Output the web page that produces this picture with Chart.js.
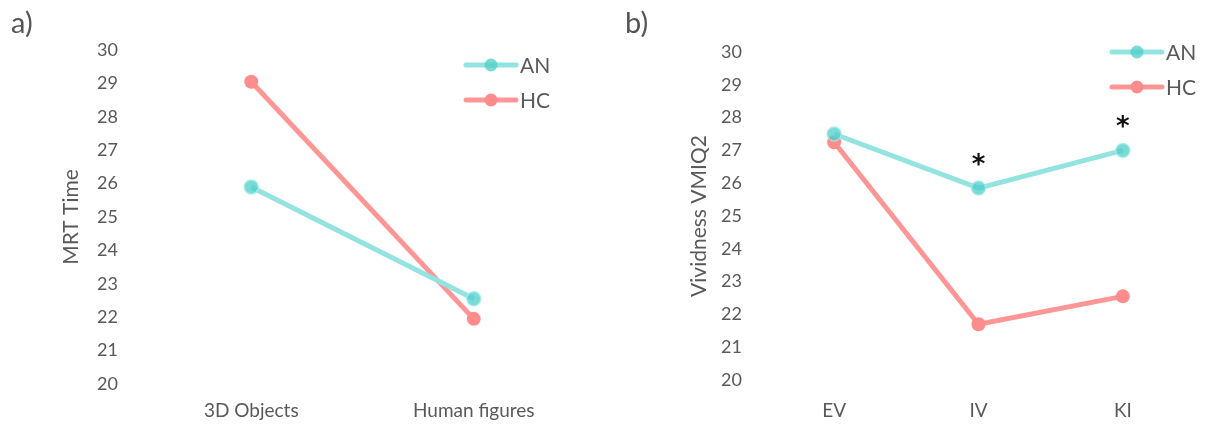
<!DOCTYPE html>
<html>
<head>
<meta charset="utf-8">
<script src="https://cdn.jsdelivr.net/npm/chart.js@4.4.0/dist/chart.umd.min.js"></script>
<style>
  html, body { margin: 0; padding: 0; background: #fff; }
  body { width: 1208px; height: 425px; position: relative; overflow: hidden; font-family: Lato, sans-serif; }
  .panel { position: absolute; top: 0; width: 604px; height: 425px; }
  #panelA { left: 0; }
  #panelB { left: 604px; }
  .tag { position: absolute; top: 5px; font-size: 29px; line-height: 34px; color: #555; }
</style>
</head>
<body>
<div class="panel" id="panelA"><canvas id="chartA"></canvas></div>
<div class="panel" id="panelB"><canvas id="chartB"></canvas></div>
<div class="tag" style="left:11px">a)</div>
<div class="tag" style="left:625px">b)</div>
<script>
/* --------------- Data --------------------- */
const seriesNames = ["AN", "HC"];

// a) mental rotation test
const mrtCategories = ["3D Objects", "Human figures"];
const mrtAN = [25.9, 22.55];
const mrtHC = [29.05, 21.95];

// b) vividness of movement imagery
const vmiqCategories = ["EV", "IV", "KI"];
const vmiqAN = [27.5, 25.85, 27.0];
const vmiqHC = [27.25, 21.7, 22.55];
const vmiqSig = ["", "*", "*"];

const yMin = 20;
const yMax = 30;

/* --------------- Colors --------------------- */
const anLine = "#93e4e0";
const anPoint = "rgba(78,206,200,0.75)";
const hcLine = "#ff9696";
const hcPoint = "#ff8c8c";
const textColor = "#595959";

Chart.defaults.font.family = "Lato, sans-serif";
Chart.defaults.color = textColor;

/* --------------- Legend (line + marker) --------------------- */
const lineLegend = {
  id: "lineLegend",
  afterDraw(chart, args, opts) {
    const ctx = chart.ctx;
    ctx.save();
    chart.data.datasets.forEach((ds, i) => {
      const y = opts.y + i * opts.gap;
      ctx.strokeStyle = ds.borderColor;
      ctx.lineWidth = 5;
      ctx.lineCap = "round";
      ctx.beginPath();
      ctx.moveTo(opts.x, y);
      ctx.lineTo(opts.x + 50, y);
      ctx.stroke();
      ctx.fillStyle = ds.pointBackgroundColor;
      ctx.beginPath();
      ctx.arc(opts.x + 25, y, 6.5, 0, Math.PI * 2);
      ctx.fill();
      ctx.fillStyle = textColor;
      ctx.font = "21px Lato, sans-serif";
      ctx.textBaseline = "middle";
      ctx.textAlign = "left";
      ctx.fillText(ds.label, opts.x + 54, y + 1);
    });
    ctx.restore();
  },
};

/* --------------- Significance stars --------------------- */
const sigStars = {
  id: "sigStars",
  afterDatasetsDraw(chart, args, opts) {
    if (!opts.marks) return;
    const ctx = chart.ctx;
    const xs = chart.scales.x, ys = chart.scales.y;
    ctx.save();
    ctx.fillStyle = "#111";
    ctx.font = "bold 26px 'DejaVu Sans', sans-serif";
    ctx.textAlign = "center";
    ctx.textBaseline = "middle";
    opts.marks.forEach((m, i) => {
      if (!m) return;
      const top = Math.max(...chart.data.datasets.map((d) => d.data[i]));
      ctx.fillText(m, xs.getPixelForValue(i), ys.getPixelForValue(top) - 22);
    });
    ctx.restore();
  },
};

/* --------------- Chart builder --------------------- */
function makeChart(canvas, cats, an, hc, yTitle, lay) {
  return new Chart(canvas, {
    type: "line",
    plugins: [lineLegend, sigStars],
    data: {
      labels: cats,
      datasets: [
        {
          label: seriesNames[0],
          data: an,
          borderColor: anLine,
          pointBackgroundColor: anPoint,
          pointBorderColor: "rgba(160,235,232,0.8)",
          pointBorderWidth: 1.5,
        },
        {
          label: seriesNames[1],
          data: hc,
          borderColor: hcLine,
          pointBackgroundColor: hcPoint,
          pointBorderColor: hcPoint,
          pointBorderWidth: 0,
        },
      ],
    },
    options: {
      responsive: true,
      maintainAspectRatio: false,
      animation: false,
      elements: {
        line: { borderWidth: 5, tension: 0 },
        point: { radius: 7 },
      },
      layout: { padding: { left: lay.left, top: lay.top, right: lay.right, bottom: 0 } },
      plugins: {
        legend: { display: false },
        tooltip: { enabled: false },
        lineLegend: lay.legend,
        sigStars: { marks: lay.marks },
      },
      scales: {
        x: {
          offset: true,
          grid: { display: false, drawTicks: false },
          border: { display: false },
          ticks: { padding: lay.xPad, font: { size: 19 }, color: textColor },
          afterFit: (s) => { s.height = lay.xHeight; },
        },
        y: {
          min: yMin,
          max: yMax,
          grid: { display: false, drawTicks: false },
          border: { display: false },
          ticks: { stepSize: 1, padding: lay.yPad, font: { size: 18 }, color: textColor },
          title: { display: true, text: yTitle, font: { size: 21 }, color: textColor, padding: 0 },
          afterFit: (s) => { s.width = lay.yWidth; },
        },
      },
    },
  });
}

makeChart(document.getElementById("chartA"), mrtCategories, mrtAN, mrtHC, "MRT Time", {
  left: 59, top: 50, right: 19, yWidth: 81, yPad: 22, xHeight: 41, xPad: 15,
  legend: { x: 466, y: 65, gap: 35 },
  marks: null,
});

makeChart(document.getElementById("chartB"), vmiqCategories, vmiqAN, vmiqHC, "Vividness VMIQ2", {
  left: 83, top: 52, right: 13, yWidth: 75, yPad: 20, xHeight: 45, xPad: 19,
  legend: { x: 508, y: 52, gap: 35 },
  marks: vmiqSig,
});
</script>
</body>
</html>
